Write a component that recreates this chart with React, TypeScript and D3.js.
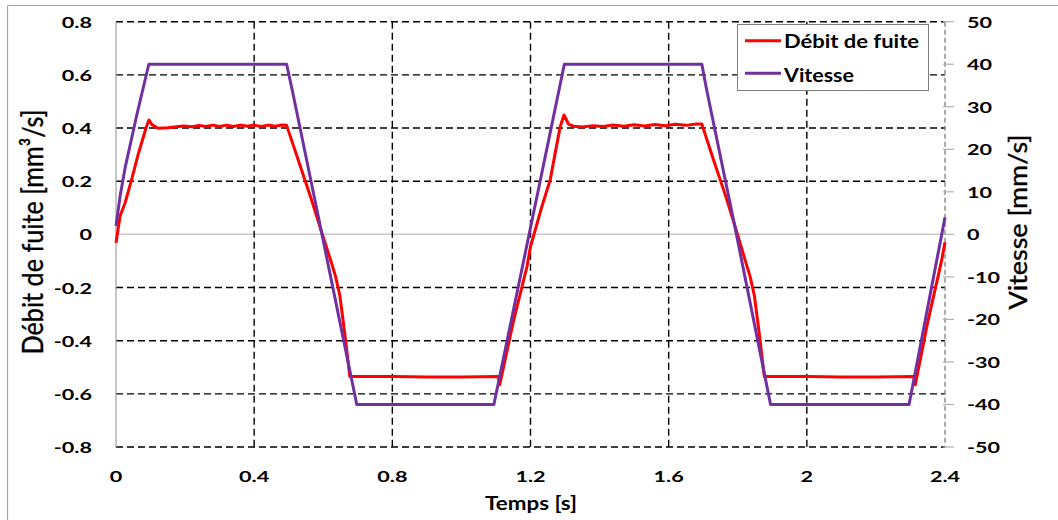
import React from "react";
import * as d3 from "d3";

// Débit de fuite (left axis, mm³/s)
const debitT = [0, 0.006, 0.012, 0.026, 0.045, 0.064, 0.08, 0.088, 0.0955, 0.105, 0.122, 0.15, 0.195, 0.22, 0.24, 0.26, 0.28, 0.3, 0.32, 0.34, 0.36, 0.38, 0.4, 0.42, 0.44, 0.46, 0.48, 0.494, 0.53, 0.566, 0.59, 0.624, 0.636, 0.648, 0.662, 0.677, 0.8, 0.9, 1.0, 1.107, 1.111, 1.15, 1.19, 1.2, 1.233, 1.257, 1.275, 1.286, 1.297, 1.31, 1.324, 1.35, 1.38, 1.41, 1.44, 1.47, 1.5, 1.53, 1.56, 1.59, 1.62, 1.65, 1.68, 1.696, 1.73, 1.766, 1.79, 1.824, 1.836, 1.848, 1.862, 1.877, 2.0, 2.1, 2.2, 2.31, 2.314, 2.35, 2.39, 2.4];
const debitV = [-0.032, 0.02, 0.07, 0.117, 0.205, 0.3, 0.37, 0.405, 0.43, 0.412, 0.399, 0.401, 0.408, 0.405, 0.41, 0.406, 0.411, 0.406, 0.411, 0.406, 0.411, 0.407, 0.411, 0.406, 0.411, 0.407, 0.411, 0.41, 0.27, 0.13, 0.03, -0.108, -0.16, -0.23, -0.37, -0.535, -0.535, -0.537, -0.537, -0.535, -0.566, -0.33, -0.12, -0.046, 0.105, 0.205, 0.33, 0.405, 0.449, 0.415, 0.407, 0.404, 0.409, 0.406, 0.411, 0.407, 0.412, 0.408, 0.413, 0.409, 0.414, 0.41, 0.415, 0.415, 0.28, 0.14, 0.04, -0.108, -0.16, -0.23, -0.37, -0.535, -0.535, -0.537, -0.537, -0.535, -0.566, -0.33, -0.1, -0.03];

// Vitesse (right axis, mm/s)
const vitT = [0, 0.012, 0.026, 0.06, 0.095, 0.494, 0.51, 0.59, 0.697, 1.094, 1.298, 1.696, 1.71, 1.79, 1.895, 2.296, 2.4];
const vitV = [2, 9, 15.5, 28, 40, 40, 34, 2.5, -40, -40, 40, 40, 34, 2.5, -40, -40, 4];

const xTicks = [0, 0.4, 0.8, 1.2, 1.6, 2, 2.4];
const yLeftTicks = [0.8, 0.6, 0.4, 0.2, 0, -0.2, -0.4, -0.6, -0.8];
const yRightTicks = [50, 40, 30, 20, 10, 0, -10, -20, -30, -40, -50];

const seriesNames = ["Débit de fuite", "Vitesse"];
const colors = ["#ff0000", "#7030a0"];

export default function App() {
  const L = 116, R = 945, T = 21.7, B = 447;
  const x = d3.scaleLinear().domain([0, 2.4]).range([L, R]);
  const yL = d3.scaleLinear().domain([-0.8, 0.8]).range([B, T]);
  const yR = d3.scaleLinear().domain([-50, 50]).range([B, T]);

  const debit = debitT.map((t, i) => [t, debitV[i]] as [number, number]);
  const vit = vitT.map((t, i) => [t, vitV[i]] as [number, number]);
  const lineL = d3.line<[number, number]>().x(d => x(d[0])).y(d => yL(d[1]));
  const lineR = d3.line<[number, number]>().x(d => x(d[0])).y(d => yR(d[1]));

  const font = "Lato, 'DejaVu Sans', sans-serif";
  const sx = 1.35;
  const dash = "7,4";

  const fmt = (v: number) => (v === 0 ? "0" : String(v));

  return (
    <svg width={1058} height={520} style={{ position: "absolute", left: 0, top: 0, background: "#fff" }} fontFamily={font}>
      {/* outer frame */}
      <line x1={7.5} y1={5.5} x2={1058} y2={5.5} stroke="#a6a6a6" strokeWidth={1.2} />
      <line x1={7.5} y1={5.5} x2={7.5} y2={520} stroke="#a6a6a6" strokeWidth={1.2} />

      {/* horizontal grid */}
      {yLeftTicks.map(v =>
        v === 0 ? (
          <line key={"h" + v} x1={L} x2={R} y1={yL(v)} y2={yL(v)} stroke="#c8c8c8" strokeWidth={1.5} />
        ) : (
          <line key={"h" + v} x1={L} x2={R} y1={yL(v)} y2={yL(v)} stroke="#000" strokeWidth={1.4} strokeDasharray={dash} />
        )
      )}
      {/* vertical grid */}
      {xTicks.filter(v => v > 0 && v < 2.4).map(v => (
        <line key={"v" + v} x1={x(v)} x2={x(v)} y1={T} y2={B} stroke="#000" strokeWidth={1.4} strokeDasharray={dash} />
      ))}
      {/* left axis */}
      <line x1={L} x2={L} y1={T} y2={B} stroke="#a0a0a0" strokeWidth={1.2} />
      {/* right axis */}
      <line x1={R} x2={R} y1={T} y2={B} stroke="#808080" strokeWidth={1.3} strokeDasharray="5,3" />
      {yRightTicks.map(v => (
        <line key={"rt" + v} x1={R - 2} x2={R + 9} y1={yR(v)} y2={yR(v)} stroke="#b0b0b0" strokeWidth={1.2} />
      ))}

      {/* series */}
      <path d={lineL(debit) || ""} fill="none" stroke={colors[0]} strokeWidth={3} strokeLinejoin="round" />
      <path d={lineR(vit) || ""} fill="none" stroke={colors[1]} strokeWidth={3} strokeLinejoin="round" />

      {/* left tick labels */}
      {yLeftTicks.map(v => (
        <text key={"lt" + v} transform={`translate(92,${yL(v) + 6}) scale(${sx},1)`} textAnchor="end" fontSize={16} fontWeight="bold" fill="#000">
          {fmt(v)}
        </text>
      ))}
      {/* right tick labels */}
      {yRightTicks.map(v => (
        <text key={"rl" + v} transform={`translate(967,${yR(v) + 6}) scale(${sx},1)`} textAnchor="start" fontSize={16} fontWeight="bold" fill="#000">
          {fmt(v)}
        </text>
      ))}
      {/* x tick labels */}
      {xTicks.map(v => (
        <text key={"xl" + v} transform={`translate(${x(v)},482) scale(${sx},1)`} textAnchor="middle" fontSize={16} fontWeight="bold" fill="#000">
          {fmt(v)}
        </text>
      ))}

      {/* axis titles */}
      <text transform={`translate(531,510)`} textAnchor="middle" fontSize={18} fontWeight="bold" textLength={92} lengthAdjust="spacingAndGlyphs">
        Temps [s]
      </text>
      <text transform={`translate(43,232) rotate(-90) scale(1,1.3)`} textAnchor="middle" fontSize={22} textLength={245} lengthAdjust="spacingAndGlyphs" stroke="#000" strokeWidth={0.3}>
        Débit de fuite [mm³/s]
      </text>
      <text transform={`translate(1027,222) rotate(-90) scale(1,1.3)`} textAnchor="middle" fontSize={19} textLength={175} lengthAdjust="spacingAndGlyphs" stroke="#000" strokeWidth={0.3}>
        Vitesse [mm/s]
      </text>

      {/* legend */}
      <rect x={737.5} y={24.5} width={191} height={66} fill="#fff" stroke="#7f7f7f" strokeWidth={1} />
      {seriesNames.map((n, i) => (
        <g key={n}>
          <line x1={745} x2={781} y1={i === 0 ? 40.7 : 73.3} y2={i === 0 ? 40.7 : 73.3} stroke={colors[i]} strokeWidth={3} />
          <text x={784} y={i === 0 ? 47.5 : 82} fontSize={18} fontWeight="bold" textLength={i === 0 ? 135 : 70} lengthAdjust="spacingAndGlyphs">
            {n}
          </text>
        </g>
      ))}
    </svg>
  );
}
